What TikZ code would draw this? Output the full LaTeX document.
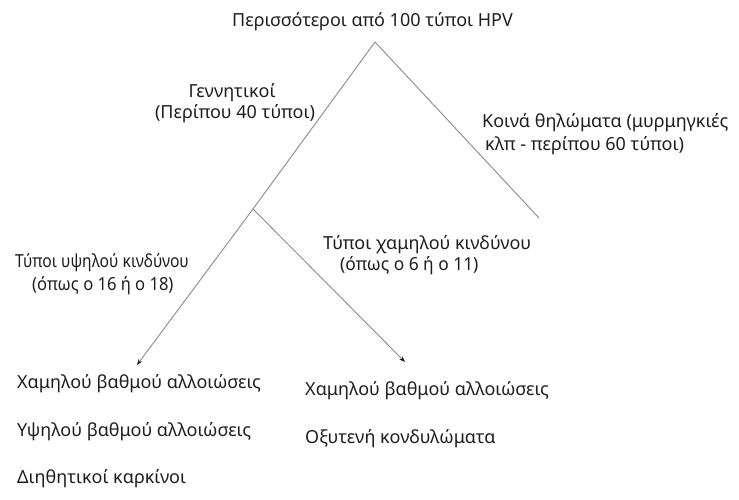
\documentclass[tikz,border=0pt]{standalone}
\usepackage{fontspec}
\setmainfont{Noto Sans}
\usetikzlibrary{arrows.meta}
\definecolor{txt}{HTML}{1E1E1E}
\definecolor{ln}{HTML}{8A8A8A}
\begin{document}
\begin{tikzpicture}[x=1pt,y=-1pt,
  lbl/.style={anchor=base west,inner sep=0pt,text=txt,font=\fontsize{18}{21}\selectfont},
  edge/.style={draw=ln,line width=0.9pt},
  arr/.style={edge,-{Stealth[length=6pt,width=4.5pt,color=txt]}}]
\useasboundingbox (0,0) rectangle (739,500);
\coordinate (apex) at (375,42);
\coordinate (junc) at (253,209);
\coordinate (rend) at (539,218);
\coordinate (ltip) at (137,365);
\coordinate (rtip) at (405,362);
\draw[edge] (apex) -- (rend);
\draw[edge] (apex) -- (junc);
\draw[arr] (junc) -- (ltip);
\draw[arr] (junc) -- (rtip);
\node[lbl,anchor=base] (top) at (372.5,27) {Περισσότεροι από 100 τύποι HPV};
\node[lbl,anchor=base] (gen1) at (232,98) {Γεννητικοί};
\node[lbl,anchor=base] (gen2) at (235,119) {(Περίπου 40 τύποι)};
\node[lbl] (koi1) at (482,128) {Κοινά θηλώματα (μυρμηγκιές};
\node[lbl] (koi2) at (485,150) {κλπ - περίπου 60 τύποι)};
\node[lbl] (hi1) at (15,267) {\scalebox{0.87}[1]{Τύποι υψηλού κινδύνου}};
\node[lbl] (hi2) at (32,290) {\scalebox{0.92}[1]{(όπως ο 16 ή ο 18)}};
\node[lbl] (lo1) at (323,249) {Τύποι χαμηλού κινδύνου};
\node[lbl] (lo2) at (340,270) {\scalebox{0.965}[1]{(όπως ο 6 ή ο 11)}};
\node[lbl] (bl1) at (17,388) {Χαμηλού βαθμού αλλοιώσεις};
\node[lbl] (bl2) at (17,436) {Υψηλού βαθμού αλλοιώσεις};
\node[lbl] (bl3) at (17,483) {Διηθητικοί καρκίνοι};
\node[lbl] (br1) at (305,395) {Χαμηλού βαθμού αλλοιώσεις};
\node[lbl] (br2) at (305,443) {Οξυτενή κονδυλώματα};
\end{tikzpicture}
\end{document}
